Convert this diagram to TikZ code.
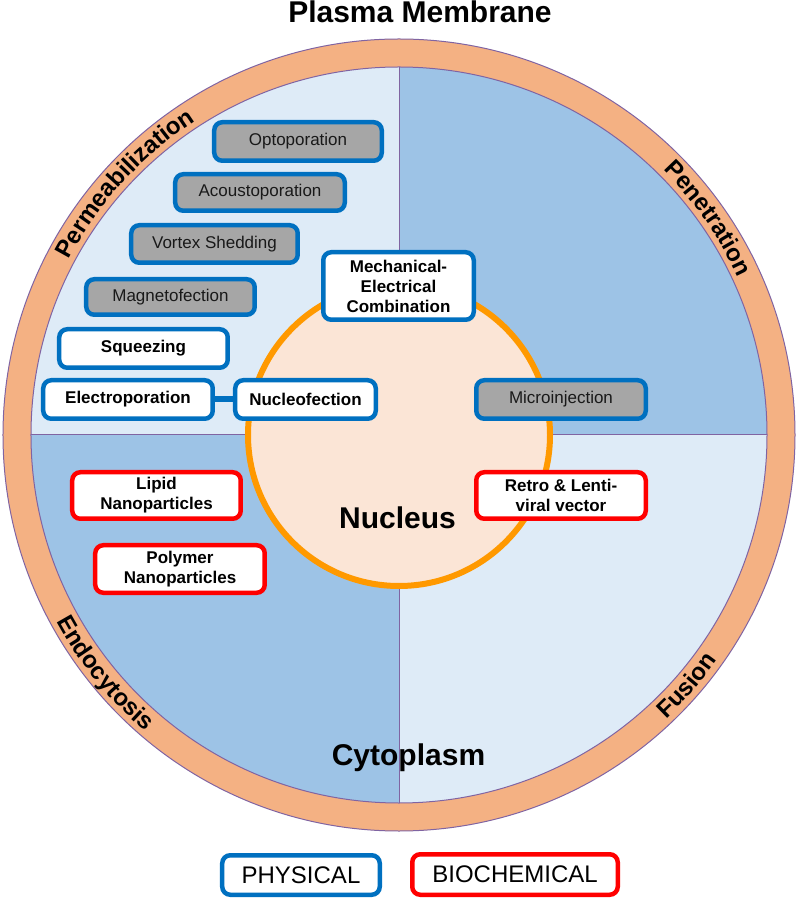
\documentclass[tikz,border=0pt]{standalone}
\usepackage{fontspec}
\setmainfont{Liberation Sans}
\usetikzlibrary{decorations.text}
\definecolor{ringc}{HTML}{F4B183}
\definecolor{lightb}{HTML}{DEEBF7}
\definecolor{darkb}{HTML}{9DC3E6}
\definecolor{nucf}{HTML}{FBE5D6}
\definecolor{nucd}{HTML}{FF9900}
\definecolor{bluec}{HTML}{0070C0}
\definecolor{grayf}{HTML}{A6A6A6}
\definecolor{purp}{HTML}{8064A2}
\definecolor{redc}{HTML}{FF0000}
\tikzset{
  box/.style={rounded corners=8pt, line width=4.5pt, inner sep=0pt, align=center, text=black},
  physw/.style={box, draw=bluec, fill=white, font=\bfseries\fontsize{17}{20}\selectfont},
  physg/.style={box, draw=bluec, fill=grayf, font=\fontsize{17}{20}\selectfont, text=black!90},
  bioc/.style={box, draw=redc, fill=white, font=\bfseries\fontsize{17}{20}\selectfont},
  legendbox/.style={box, font=\fontsize{24}{28}\selectfont, fill=white},
  ringtext/.style={decorate, decoration={text along path, text align=center}},
  bigtitle/.style={font=\bfseries\fontsize{30}{30}\selectfont, anchor=base}
}
\begin{document}
\begin{tikzpicture}[x=1pt,y=1pt]
\useasboundingbox (-399,435) rectangle (397,-466);
% membrane ring
\fill[ringc] (0,0) circle (396);
\draw[purp, line width=1pt] (0,0) circle (396);
% quadrants
\fill[lightb] (0,0) -- (0,368) arc (90:180:368) -- cycle;
\fill[darkb] (0,0) -- (368,0) arc (0:90:368) -- cycle;
\fill[darkb] (0,0) -- (-368,0) arc (180:270:368) -- cycle;
\fill[lightb] (0,0) -- (0,-368) arc (270:360:368) -- cycle;
\draw[purp, line width=1pt] (0,0) circle (368);
\draw[purp, line width=1pt] (-368,0) -- (368,0);
\draw[purp, line width=1pt] (0,368) -- (0,-368);
% nucleus
\node[circle, minimum size=302pt, inner sep=0pt, fill=nucf, draw=nucd, line width=6pt] (nuc) at (0,0) {};
% ring labels
\path[ringtext, decoration={text={|\bfseries\fontsize{24}{24}\selectfont|Permeabilization}}]
  (0,0) ++(165:374) arc (165:110:374);
\path[ringtext, decoration={text={|\bfseries\fontsize{24}{24}\selectfont|Penetration}}]
  (0,0) ++(55:374) arc (55:15:374);
\path[ringtext, decoration={text={|\bfseries\fontsize{24}{24}\selectfont|Endocytosis}}]
  (0,0) ++(199:390) arc (199:239:390);
\path[ringtext, decoration={text={|\bfseries\fontsize{24}{24}\selectfont|Fusion}}]
  (0,0) ++(-61:390) arc (-61:-21:390);
% titles
\node[font=\bfseries\fontsize{30}{30}\selectfont, anchor=base] (pm) at (21,412) {Plasma Membrane};
\node[bigtitle] (nucl) at (-1.5,-94) {Nucleus};
\node[bigtitle] (cyto) at (9.5,-330) {Cytoplasm};
% physical boxes
\node[physg, minimum width=167.5pt, minimum height=38.5pt] (opto) at (-101,293.5) {Optoporation};
\node[physg, minimum width=169.5pt, minimum height=36.5pt] (acou) at (-139,242.5) {Acoustoporation};
\node[physg, minimum width=166.5pt, minimum height=37.5pt] (vort) at (-184.5,191) {Vortex Shedding};
\node[physg, minimum width=168.5pt, minimum height=35.5pt] (magn) at (-228.5,138) {Magnetofection};
\node[physw, minimum width=168.5pt, minimum height=38.5pt] (sque) at (-255.5,86.5) {Squeezing};
\node[physw, minimum width=169.5pt, minimum height=38.5pt] (elec) at (-271,35.5) {Electroporation};
\node[physw, minimum width=140.5pt, minimum height=38.5pt] (nucf) at (-93.5,35.5) {Nucleofection};
\node[physw, minimum width=150.5pt, minimum height=67.5pt] (mech) at (-0.5,149) {Mechanical-\\Electrical\\Combination};
\node[physg, minimum width=169.5pt, minimum height=38.5pt] (micr) at (162,35.5) {Microinjection};
\draw[bluec, line width=6pt] (elec.east) -- (nucf.west);
% biochemical boxes
\node[bioc, minimum width=169.5pt, minimum height=46.5pt] (retr) at (162,-60.5) {Retro \& Lenti-\\viral vector};
\node[bioc, minimum width=168.5pt, minimum height=46.5pt] (lipi) at (-242.5,-60.5) {Lipid\\Nanoparticles};
\node[bioc, minimum width=169.5pt, minimum height=47.5pt] (poly) at (-219,-134) {Polymer\\Nanoparticles};
% legend
\node[legendbox, draw=bluec, minimum width=157.5pt, minimum height=39.5pt] (legp) at (-98,-440) {PHYSICAL};
\node[legendbox, draw=redc, minimum width=205.5pt, minimum height=40.5pt] (legb) at (116,-439.5) {BIOCHEMICAL};
\end{tikzpicture}
\end{document}
